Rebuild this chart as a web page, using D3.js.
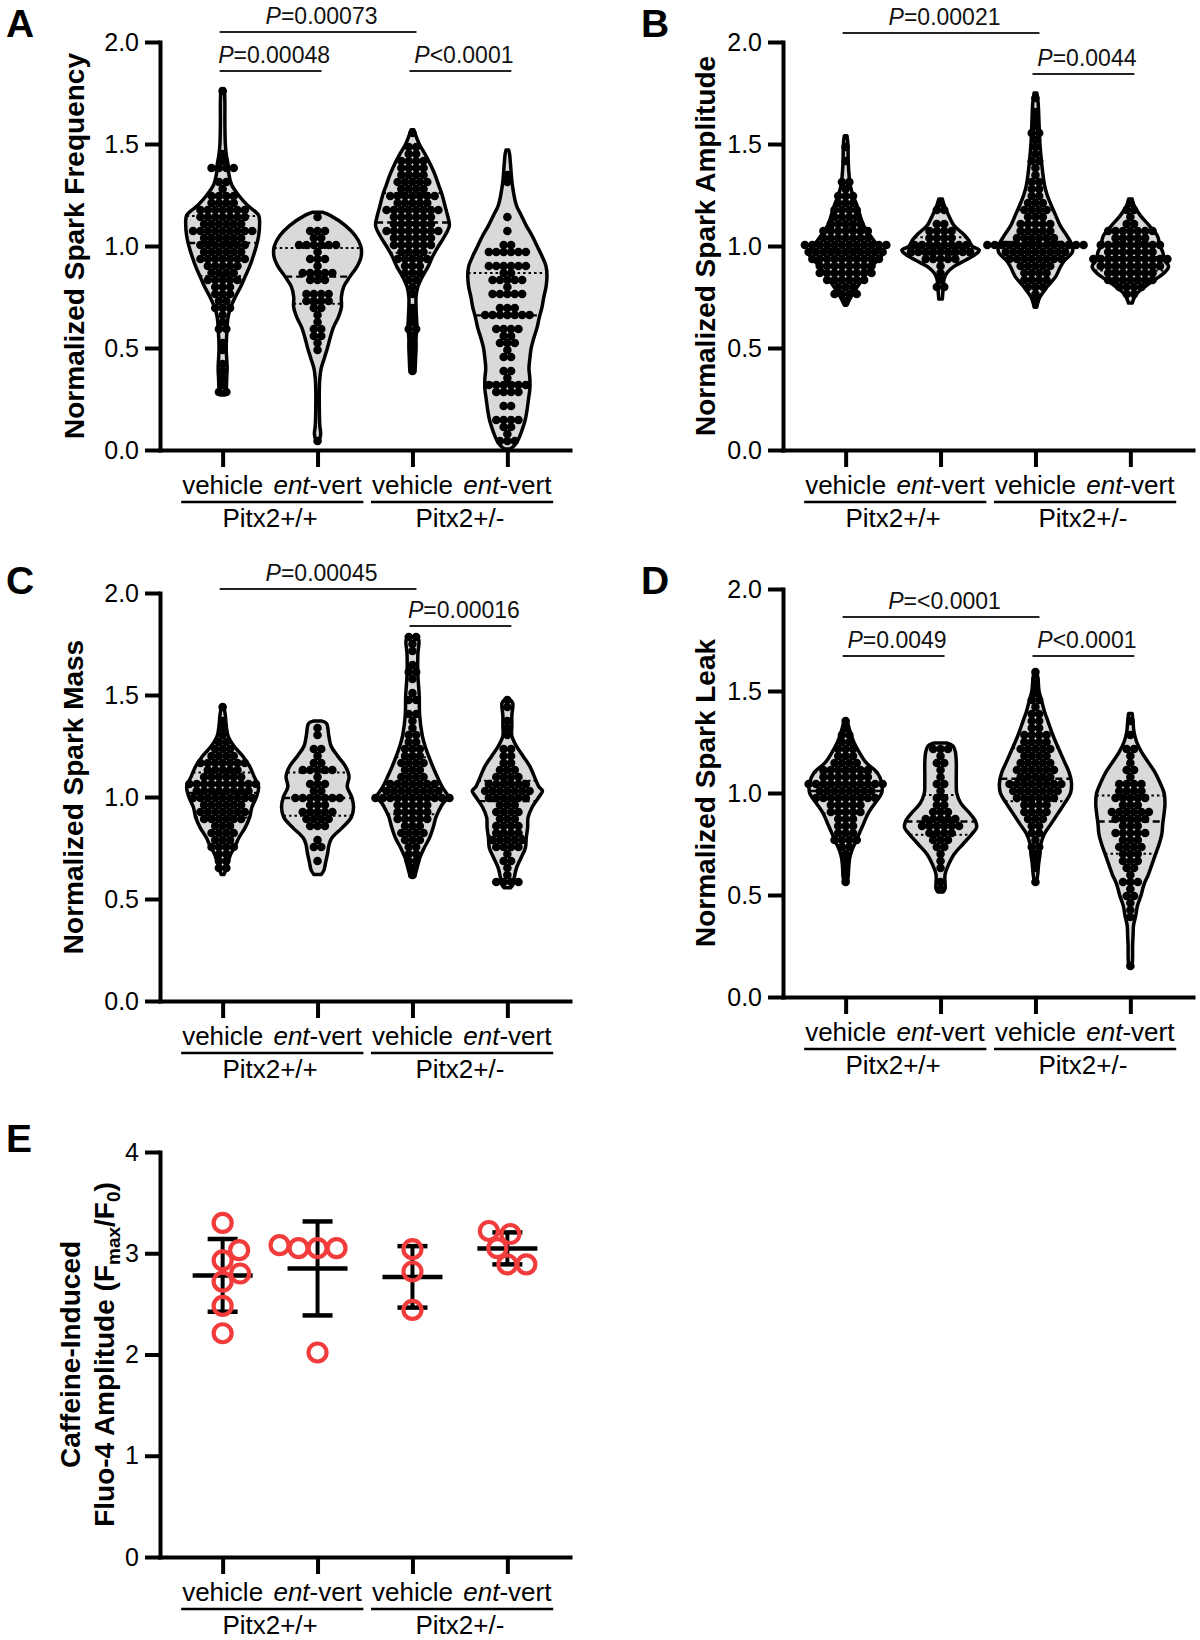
<!DOCTYPE html>
<html><head><meta charset="utf-8">
<script src="https://cdn.jsdelivr.net/npm/d3@7"></script>
<style>
body{margin:0;background:#fff;}
svg text{font-family:"Liberation Sans",Arial,sans-serif;}
</style></head><body>
<svg id="c" width="1200" height="1640"></svg>
<script>
// ---------------- DATA ----------------
const groupNames = ["vehicle", "ent-vert", "vehicle", "ent-vert"];
const genotypes = ["Pitx2+/+", "Pitx2+/-"];
const violinTicks = [0, 0.5, 1.0, 1.5, 2.0];
const caffeineTicks = [0, 1, 2, 3, 4];

// Panel A: Normalized Spark Frequency
const freqVehWT = [1.77,1.45,1.42,1.39,1.38,1.38,1.37,1.33,1.3,1.28,1.26,1.25,1.24,1.23,1.22,1.21,1.2,1.2,1.19,1.19,1.18,1.17,1.17,1.16,1.16,1.15,1.15,1.15,1.14,1.14,1.13,1.13,1.12,1.12,1.11,1.11,1.1,1.1,1.09,1.09,1.08,1.08,1.08,1.07,1.07,1.06,1.06,1.05,1.05,1.04,1.04,1.03,1.03,1.02,1.02,1.01,1.0,1.0,0.99,0.99,0.98,0.98,0.98,0.97,0.97,0.96,0.95,0.95,0.94,0.94,0.93,0.93,0.92,0.91,0.9,0.9,0.89,0.89,0.88,0.88,0.87,0.86,0.85,0.84,0.84,0.83,0.82,0.81,0.8,0.79,0.78,0.77,0.76,0.74,0.73,0.71,0.69,0.68,0.66,0.63,0.61,0.58,0.54,0.5,0.42,0.4,0.37,0.33,0.3,0.27];
const freqEntWT = [1.15,1.09,1.08,1.07,1.04,1.03,1.02,0.99,0.99,0.99,0.99,0.99,0.96,0.94,0.93,0.92,0.89,0.88,0.88,0.87,0.86,0.86,0.84,0.83,0.82,0.78,0.77,0.76,0.75,0.74,0.74,0.73,0.72,0.71,0.7,0.66,0.64,0.6,0.58,0.57,0.55,0.52,0.5,0.06];
const freqVehHet = [1.56,1.5,1.47,1.46,1.44,1.43,1.41,1.4,1.4,1.39,1.39,1.38,1.37,1.36,1.35,1.34,1.34,1.33,1.32,1.31,1.3,1.3,1.29,1.28,1.28,1.27,1.26,1.26,1.25,1.24,1.24,1.23,1.23,1.22,1.21,1.21,1.2,1.2,1.19,1.19,1.18,1.18,1.17,1.17,1.16,1.16,1.15,1.15,1.14,1.14,1.13,1.13,1.12,1.12,1.11,1.11,1.1,1.1,1.09,1.09,1.09,1.08,1.08,1.07,1.07,1.06,1.05,1.05,1.04,1.04,1.03,1.03,1.02,1.01,1.01,1.0,0.99,0.99,0.98,0.98,0.97,0.96,0.95,0.94,0.93,0.93,0.92,0.91,0.9,0.89,0.88,0.87,0.86,0.84,0.82,0.8,0.76,0.71,0.66,0.63,0.61,0.6,0.55,0.53,0.5,0.45,0.41,0.38];
const freqEntHet = [1.34,1.32,1.15,1.09,1.02,1.01,0.97,0.97,0.97,0.96,0.96,0.96,0.89,0.89,0.89,0.89,0.89,0.89,0.88,0.88,0.83,0.83,0.82,0.82,0.82,0.81,0.77,0.76,0.76,0.75,0.75,0.71,0.7,0.7,0.67,0.67,0.67,0.66,0.66,0.66,0.65,0.61,0.6,0.6,0.59,0.55,0.55,0.54,0.54,0.53,0.48,0.47,0.46,0.39,0.38,0.37,0.33,0.33,0.33,0.32,0.32,0.32,0.28,0.28,0.27,0.27,0.23,0.22,0.16,0.15,0.15,0.14,0.1,0.1,0.09,0.05,0.04,0.03];
// violin density outlines: [value, relative density]
const profFreqVehWT = [[1.77,4],[1.7,5],[1.6,5],[1.5,6],[1.45,8],[1.4,12],[1.35,14],[1.3,20],[1.25,35],[1.2,55],[1.15,80],[1.1,82],[1.05,80],[1.0,75],[0.95,68],[0.9,60],[0.85,50],[0.8,40],[0.75,28],[0.7,18],[0.65,12],[0.6,10],[0.5,8],[0.4,10],[0.35,9],[0.3,8],[0.27,5]];
const profFreqEntWT = [[1.165,12],[1.15,28],[1.1,62],[1.05,84],[1.0,96],[0.95,97],[0.9,88],[0.85,72],[0.8,58],[0.75,53],[0.7,53],[0.65,46],[0.6,35],[0.55,28],[0.5,22],[0.45,15],[0.4,8],[0.35,5],[0.3,4],[0.2,4],[0.12,5],[0.08,7],[0.055,5]];
const profFreqVehHet = [[1.57,3],[1.55,6],[1.5,15],[1.45,28],[1.4,40],[1.35,50],[1.3,58],[1.25,66],[1.2,72],[1.15,78],[1.1,82],[1.05,72],[1.0,58],[0.95,45],[0.9,35],[0.85,22],[0.8,12],[0.75,8],[0.7,8],[0.65,9],[0.6,10],[0.55,8],[0.5,8],[0.45,7],[0.4,6],[0.38,4]];
const profFreqEntHet = [[1.47,3],[1.45,5],[1.4,7],[1.3,11],[1.2,20],[1.15,31],[1.1,42],[1.05,55],[1.0,66],[0.95,77],[0.9,86],[0.85,88],[0.8,86],[0.75,81],[0.7,77],[0.65,71],[0.6,66],[0.55,59],[0.5,53],[0.45,50],[0.4,48],[0.35,50],[0.3,50],[0.25,47],[0.2,44],[0.15,40],[0.1,33],[0.05,24],[0.02,15],[0.005,6]];
const sigFreq = [[0,2,"=0.00073",0],[0,1,"=0.00048",1],[2,3,"<0.0001",1]];

// Panel B: Normalized Spark Amplitude
const ampVehWT = [1.47,1.42,1.33,1.3,1.28,1.26,1.24,1.23,1.22,1.21,1.2,1.19,1.18,1.17,1.16,1.15,1.14,1.13,1.13,1.12,1.11,1.11,1.1,1.1,1.09,1.09,1.08,1.08,1.07,1.06,1.06,1.05,1.05,1.04,1.04,1.04,1.03,1.03,1.02,1.02,1.01,1.01,1.01,1.0,1.0,1.0,0.99,0.99,0.99,0.99,0.98,0.98,0.98,0.97,0.97,0.97,0.97,0.96,0.96,0.96,0.96,0.95,0.95,0.95,0.94,0.94,0.93,0.93,0.92,0.92,0.92,0.91,0.91,0.91,0.9,0.9,0.9,0.89,0.89,0.88,0.88,0.88,0.87,0.87,0.86,0.86,0.86,0.85,0.85,0.84,0.83,0.83,0.82,0.81,0.8,0.79,0.78,0.78,0.77,0.76,0.74];
const ampEntWT = [1.22,1.18,1.17,1.12,1.1,1.08,1.07,1.06,1.06,1.05,1.04,1.03,1.03,1.02,1.01,1.01,1.0,1.0,0.99,0.99,0.99,0.98,0.98,0.98,0.98,0.97,0.97,0.97,0.96,0.96,0.95,0.95,0.94,0.93,0.92,0.9,0.88,0.85,0.8,0.79];
const ampVehHet = [1.73,1.66,1.63,1.6,1.56,1.55,1.53,1.5,1.46,1.43,1.4,1.37,1.35,1.32,1.3,1.28,1.27,1.25,1.24,1.22,1.21,1.2,1.19,1.18,1.17,1.16,1.15,1.14,1.13,1.12,1.12,1.11,1.1,1.1,1.09,1.08,1.07,1.07,1.06,1.05,1.05,1.04,1.04,1.03,1.03,1.02,1.02,1.02,1.01,1.01,1.01,1.0,1.0,1.0,1.0,0.99,0.99,0.99,0.99,0.98,0.98,0.98,0.98,0.97,0.97,0.97,0.96,0.96,0.95,0.95,0.94,0.94,0.93,0.93,0.92,0.92,0.91,0.9,0.9,0.9,0.89,0.88,0.88,0.87,0.86,0.85,0.84,0.83,0.82,0.81,0.8,0.79,0.77,0.74];
const ampEntHet = [1.22,1.18,1.16,1.14,1.12,1.1,1.09,1.08,1.08,1.07,1.06,1.06,1.06,1.05,1.04,1.04,1.03,1.03,1.02,1.02,1.01,1.01,1.0,1.0,1.0,0.99,0.99,0.98,0.98,0.97,0.97,0.97,0.96,0.96,0.95,0.95,0.95,0.94,0.94,0.93,0.93,0.93,0.92,0.92,0.92,0.91,0.91,0.91,0.9,0.9,0.9,0.89,0.89,0.89,0.88,0.88,0.87,0.87,0.87,0.86,0.86,0.85,0.85,0.85,0.84,0.83,0.83,0.82,0.81,0.81,0.8,0.79,0.78,0.76];
const profAmpVehWT = [[1.54,3],[1.5,5],[1.4,6],[1.3,10],[1.25,16],[1.2,25],[1.15,32],[1.1,40],[1.05,55],[1.0,72],[0.97,84],[0.94,75],[0.9,58],[0.85,42],[0.8,26],[0.75,12],[0.72,5],[0.71,3]];
const profAmpEntWT = [[1.23,4],[1.2,8],[1.15,18],[1.1,30],[1.06,50],[1.03,62],[1.0,70],[0.98,86],[0.96,78],[0.93,55],[0.9,30],[0.87,15],[0.84,8],[0.8,6],[0.77,5],[0.74,4]];
const profAmpVehHet = [[1.75,3],[1.7,6],[1.6,8],[1.5,10],[1.4,14],[1.3,20],[1.25,26],[1.2,35],[1.15,45],[1.1,55],[1.05,70],[1.0,82],[0.97,82],[0.93,65],[0.9,56],[0.85,45],[0.8,26],[0.75,10],[0.72,5],[0.7,3]];
const profAmpEntHet = [[1.23,4],[1.2,8],[1.15,22],[1.1,42],[1.05,60],[1.0,66],[0.97,72],[0.93,76],[0.9,85],[0.87,76],[0.84,58],[0.8,32],[0.76,12],[0.72,4]];
const sigAmp = [[0,2,"=0.00021",0],[2,3,"=0.0044",1]];

// Panel C: Normalized Spark Mass
const massVehWT = [1.43,1.38,1.33,1.3,1.28,1.27,1.25,1.24,1.22,1.21,1.2,1.2,1.19,1.18,1.17,1.17,1.16,1.16,1.15,1.15,1.14,1.13,1.13,1.12,1.12,1.11,1.1,1.1,1.1,1.09,1.09,1.08,1.08,1.07,1.07,1.06,1.06,1.06,1.05,1.05,1.05,1.04,1.04,1.04,1.03,1.03,1.02,1.02,1.02,1.01,1.01,1.0,1.0,1.0,0.99,0.99,0.98,0.98,0.97,0.97,0.96,0.96,0.96,0.95,0.94,0.94,0.93,0.93,0.92,0.92,0.91,0.9,0.9,0.9,0.89,0.88,0.88,0.87,0.86,0.85,0.84,0.83,0.82,0.81,0.8,0.79,0.78,0.77,0.76,0.76,0.75,0.73,0.72,0.7,0.68,0.66,0.64];
const massEntWT = [1.34,1.29,1.24,1.22,1.2,1.17,1.15,1.13,1.13,1.13,1.12,1.12,1.1,1.08,1.06,1.05,1.03,1.02,1.01,1.0,1.0,1.0,0.99,0.99,0.98,0.97,0.96,0.95,0.94,0.93,0.92,0.91,0.91,0.9,0.9,0.89,0.88,0.87,0.86,0.85,0.78,0.76,0.74,0.68];
const massVehHet = [1.78,1.77,1.76,1.72,1.66,1.62,1.6,1.57,1.52,1.47,1.46,1.42,1.4,1.37,1.35,1.32,1.3,1.28,1.27,1.25,1.24,1.22,1.21,1.2,1.19,1.18,1.17,1.16,1.15,1.14,1.13,1.12,1.11,1.1,1.1,1.09,1.08,1.08,1.07,1.07,1.06,1.05,1.05,1.04,1.04,1.04,1.03,1.03,1.02,1.02,1.02,1.01,1.01,1.0,1.0,1.0,1.0,0.99,0.99,0.99,0.98,0.98,0.97,0.97,0.96,0.96,0.95,0.94,0.93,0.92,0.92,0.91,0.9,0.9,0.89,0.88,0.88,0.87,0.86,0.85,0.84,0.83,0.82,0.81,0.8,0.79,0.78,0.76,0.75,0.73,0.71,0.7,0.67,0.64,0.61];
const massEntHet = [1.46,1.43,1.38,1.33,1.3,1.25,1.22,1.2,1.19,1.17,1.15,1.14,1.13,1.12,1.11,1.1,1.1,1.09,1.08,1.07,1.06,1.06,1.05,1.05,1.04,1.04,1.03,1.03,1.03,1.02,1.02,1.01,1.0,1.0,1.0,0.99,0.98,0.97,0.96,0.95,0.94,0.93,0.92,0.91,0.9,0.89,0.88,0.87,0.86,0.85,0.85,0.84,0.83,0.82,0.81,0.8,0.8,0.79,0.78,0.78,0.77,0.76,0.75,0.74,0.72,0.7,0.68,0.66,0.63,0.6,0.58,0.57,0.57];
const profMassVehWT = [[1.44,3],[1.4,6],[1.35,8],[1.3,12],[1.25,25],[1.2,45],[1.15,60],[1.1,70],[1.05,80],[1.0,75],[0.95,65],[0.9,60],[0.85,50],[0.8,36],[0.76,28],[0.72,18],[0.68,12],[0.65,8],[0.62,3]];
const profMassEntWT = [[1.372,10],[1.36,20],[1.3,25],[1.25,30],[1.2,45],[1.15,62],[1.1,70],[1.05,66],[1.0,76],[0.95,80],[0.9,75],[0.85,55],[0.8,32],[0.77,26],[0.72,22],[0.68,18],[0.64,14],[0.62,8]];
const profMassVehHet = [[1.785,8],[1.77,14],[1.7,12],[1.6,12],[1.5,15],[1.4,16],[1.3,22],[1.25,28],[1.2,36],[1.15,45],[1.1,55],[1.05,66],[1.02,75],[1.0,80],[0.97,68],[0.93,58],[0.9,52],[0.85,46],[0.8,38],[0.75,26],[0.7,16],[0.65,10],[0.61,5]];
const profMassEntHet = [[1.475,7],[1.46,12],[1.4,10],[1.35,10],[1.3,10],[1.25,20],[1.2,35],[1.15,50],[1.1,60],[1.05,70],[1.03,78],[1.0,70],[0.95,55],[0.9,46],[0.85,45],[0.8,42],[0.75,40],[0.7,30],[0.65,20],[0.6,15],[0.57,12],[0.555,7]];
const sigMass = [[0,2,"=0.00045",0],[2,3,"=0.00016",1]];

// Panel D: Normalized Spark Leak
const leakVehWT = [1.34,1.32,1.29,1.27,1.25,1.24,1.22,1.21,1.2,1.19,1.18,1.17,1.16,1.15,1.14,1.13,1.12,1.12,1.12,1.11,1.1,1.1,1.1,1.09,1.09,1.08,1.08,1.08,1.07,1.07,1.06,1.06,1.06,1.05,1.05,1.05,1.04,1.04,1.03,1.03,1.03,1.02,1.02,1.01,1.01,1.0,1.0,1.0,1.0,0.99,0.99,0.98,0.98,0.98,0.97,0.97,0.96,0.96,0.95,0.94,0.94,0.93,0.93,0.92,0.91,0.9,0.9,0.89,0.88,0.87,0.86,0.85,0.84,0.83,0.82,0.81,0.8,0.78,0.77,0.76,0.76,0.75,0.72,0.7,0.67,0.63,0.6,0.57];
const leakEntWT = [1.22,1.21,1.2,1.18,1.15,1.13,1.1,1.08,1.05,1.03,1.0,0.98,0.96,0.95,0.93,0.91,0.9,0.89,0.88,0.87,0.87,0.86,0.86,0.85,0.85,0.84,0.84,0.83,0.83,0.82,0.81,0.8,0.79,0.78,0.77,0.76,0.74,0.72,0.7,0.66,0.62,0.56,0.53];
const leakVehHet = [1.58,1.55,1.52,1.48,1.45,1.44,1.42,1.4,1.38,1.36,1.35,1.33,1.32,1.3,1.29,1.28,1.27,1.26,1.25,1.24,1.24,1.23,1.22,1.21,1.2,1.2,1.19,1.18,1.17,1.17,1.16,1.15,1.14,1.13,1.13,1.12,1.12,1.11,1.11,1.1,1.1,1.09,1.08,1.08,1.07,1.07,1.06,1.06,1.05,1.05,1.04,1.04,1.03,1.03,1.02,1.02,1.01,1.01,1.0,1.0,1.0,0.99,0.99,0.98,0.97,0.97,0.96,0.95,0.94,0.94,0.93,0.92,0.91,0.9,0.89,0.88,0.87,0.86,0.85,0.84,0.82,0.8,0.78,0.75,0.72,0.7,0.66,0.62,0.58];
const leakEntHet = [1.36,1.3,1.22,1.2,1.17,1.14,1.12,1.1,1.08,1.06,1.05,1.04,1.03,1.02,1.01,1.0,1.0,0.99,0.98,0.97,0.96,0.96,0.95,0.94,0.93,0.92,0.92,0.91,0.9,0.9,0.89,0.88,0.88,0.87,0.86,0.86,0.85,0.84,0.83,0.82,0.81,0.8,0.8,0.79,0.78,0.77,0.76,0.75,0.74,0.73,0.72,0.71,0.7,0.69,0.68,0.66,0.65,0.63,0.62,0.6,0.58,0.56,0.55,0.53,0.5,0.48,0.45,0.42,0.4,0.16];
const profLeakVehWT = [[1.35,4],[1.3,10],[1.25,18],[1.2,30],[1.15,45],[1.1,70],[1.05,80],[1.0,80],[0.95,65],[0.9,50],[0.85,40],[0.8,30],[0.76,22],[0.72,14],[0.68,9],[0.64,7],[0.6,6],[0.56,4]];
const profLeakEntWT = [[1.245,14],[1.23,28],[1.2,33],[1.15,35],[1.1,35],[1.05,35],[1.0,36],[0.95,45],[0.9,65],[0.86,78],[0.83,80],[0.8,70],[0.75,50],[0.7,30],[0.65,18],[0.6,10],[0.56,10],[0.53,10],[0.515,6]];
const profLeakVehHet = [[1.6,3],[1.55,6],[1.5,8],[1.45,14],[1.4,20],[1.35,28],[1.3,36],[1.25,45],[1.2,55],[1.15,65],[1.1,75],[1.05,80],[1.0,78],[0.95,65],[0.9,50],[0.85,35],[0.8,20],[0.75,12],[0.7,10],[0.65,7],[0.6,5],[0.57,3]];
const profLeakEntHet = [[1.39,4],[1.35,6],[1.3,8],[1.25,14],[1.2,25],[1.15,40],[1.1,55],[1.05,66],[1.0,75],[0.95,77],[0.9,75],[0.85,72],[0.8,70],[0.75,64],[0.7,56],[0.65,48],[0.6,40],[0.55,30],[0.5,24],[0.45,16],[0.4,12],[0.35,7],[0.3,6],[0.25,5],[0.2,5],[0.15,4]];
const sigLeak = [[0,2,"=<0.0001",0],[0,1,"=0.0049",1],[2,3,"<0.0001",1]];

// Panel E: Caffeine-induced Fluo-4 amplitude
const caffVehWT = [3.30,3.03,2.93,2.80,2.72,2.48,2.21];
const caffEntWT = [3.08,3.05,3.05,3.05,2.02];
const caffVehHet = [3.04,2.82,2.44];
const caffEntHet = [3.22,3.19,3.05,2.89,2.89];

// ---------------- DRAWING ----------------
const svg = d3.select("#c");
const AXW = 410;

// Prism-style scatter: points binned into rows, spread evenly around the centre
function rowScatter(vals, y, rowH, sp) {
  const byRow = d3.group(vals.map(v => ({v, r: Math.round(y(v) / rowH)})), d => d.r);
  const out = [];
  for (const [r, arr] of byRow) {
    arr.sort((a, b) => a.v - b.v);
    const n = arr.length;
    arr.forEach((d, k) => out.push({v: d.v, y: r * rowH, dx: (k - (n - 1) / 2) * sp}));
  }
  return out;
}

function swarm(vals, y, D) {
  const pts = vals.map(v => ({v, y: y(v)})).sort((a, b) => b.y - a.y);
  const placed = [];
  pts.forEach((p, i) => {
    let dx = null;
    for (let k = 0; k < 400 && dx === null; k++) {
      const s = k * 0.5;
      const cands = k === 0 ? [0] : (i % 2 ? [s, -s] : [-s, s]);
      for (const c of cands) {
        let ok = true;
        for (const q of placed) {
          const dy = q.y - p.y;
          if (Math.abs(dy) >= D) continue;
          const ddx = q.dx - c;
          if (ddx * ddx + dy * dy < D * D) { ok = false; break; }
        }
        if (ok) { dx = c; break; }
      }
    }
    p.dx = dx; placed.push(p);
  });
  return pts;
}

function styleAxis(sel) {
  sel.attr("font-size", 25).attr("font-family", "Liberation Sans, Arial, sans-serif");
  sel.select(".domain").attr("stroke", "#000").attr("stroke-width", 4).attr("stroke-linecap", "square");
  sel.selectAll(".tick line").attr("stroke", "#000").attr("stroke-width", 4);
  sel.selectAll(".tick text").attr("fill", "#000");
}

function drawCategoryLabels(g, x, yBot) {
  const texts = [];
  groupNames.forEach((n, i) => {
    const t = g.append("text").attr("x", x(i)).attr("y", yBot + 44)
      .attr("text-anchor", "middle").attr("font-size", 26).attr("fill", "#000");
    if (n.startsWith("ent")) {
      t.append("tspan").attr("font-style", "italic").text("ent");
      t.append("tspan").text(n.slice(3));
    } else t.text(n);
    texts.push(t);
  });
  genotypes.forEach((gn, j) => {
    const b0 = texts[2 * j].node().getBBox(), b1 = texts[2 * j + 1].node().getBBox();
    g.append("line").attr("x1", b0.x - 1).attr("x2", b1.x + b1.width + 1)
      .attr("y1", yBot + 52).attr("y2", yBot + 52).attr("stroke", "#000").attr("stroke-width", 2.5);
    g.append("text").attr("x", (x(2 * j) + x(2 * j + 1)) / 2).attr("y", yBot + 77)
      .attr("text-anchor", "middle").attr("font-size", 26).attr("fill", "#000").text(gn);
  });
}

function panelLetter(letter, lx, ly) {
  svg.append("text").attr("x", lx).attr("y", ly).attr("font-size", 39)
    .attr("font-weight", "bold").attr("fill", "#000").text(letter);
}

function drawViolinPanel(cfg) {
  const g = svg.append("g");
  const x = d3.scalePoint().domain(d3.range(4)).range([cfg.x0, cfg.x0 + AXW]).padding(0.66);
  const y = d3.scaleLinear().domain([0, 2]).range([cfg.yBot, cfg.yTop]);
  const w = d3.scaleLinear().domain([0, 100]).range([0, 45]);

  cfg.groups.forEach((grp, i) => {
    const cx = x(i);
    const area = d3.area().curve(d3.curveCatmullRom.alpha(0.5))
      .y(d => y(d[0])).x0(d => cx - w(d[1])).x1(d => cx + w(d[1]));
    g.append("path").attr("d", area(grp.prof))
      .attr("fill", "#d9d9d9").attr("stroke", "#000").attr("stroke-width", 3.5).attr("stroke-linejoin", "round");
    const dens = d3.scaleLinear().domain(grp.prof.map(d => d[0])).range(grp.prof.map(d => d[1])).clamp(true);
    const s = grp.pts.slice().sort(d3.ascending);
    [[0.25, "2.5,3", 2], [0.5, "7,4", 2.4], [0.75, "2.5,3", 2]].forEach(([p, dash, sw]) => {
      const q = d3.quantile(s, p);
      const hw = w(dens(q));
      g.append("line").attr("x1", cx - hw).attr("x2", cx + hw).attr("y1", y(q)).attr("y2", y(q))
        .attr("stroke", "#000").attr("stroke-width", sw).attr("stroke-dasharray", dash);
    });
    const pts = rowScatter(grp.pts, y, 7, 7.4);
    g.append("g").selectAll("circle").data(pts).join("circle")
      .attr("cx", d => cx + d.dx).attr("cy", d => d.y).attr("r", 4.3).attr("fill", "#000");
  });

  const ya = g.append("g").attr("transform", `translate(${cfg.x0},0)`)
    .call(d3.axisLeft(y).tickValues(violinTicks).tickFormat(d3.format(".1f")).tickSize(15).tickPadding(6).tickSizeOuter(0));
  styleAxis(ya);
  const xa = g.append("g").attr("transform", `translate(0,${cfg.yBot})`)
    .call(d3.axisBottom(x).tickSize(17).tickSizeOuter(0).tickFormat(""));
  styleAxis(xa);

  drawCategoryLabels(g, x, cfg.yBot);

  g.append("text").attr("transform", `translate(${cfg.titleX},${(cfg.yTop + cfg.yBot) / 2}) rotate(-90)`)
    .attr("text-anchor", "middle").attr("font-size", 28).attr("font-weight", "bold").attr("fill", "#000").text(cfg.title);

  cfg.sig.forEach(([a, b, lab, row]) => {
    const ly = cfg.sigY[row];
    g.append("line").attr("x1", x(a) - 3).attr("x2", x(b) + 4).attr("y1", ly).attr("y2", ly)
      .attr("stroke", "#222").attr("stroke-width", 2);
    const t = g.append("text").attr("x", (x(a) + x(b)) / 2 + 4).attr("y", ly - 8)
      .attr("text-anchor", "middle").attr("font-size", 23).attr("fill", "#111");
    t.append("tspan").attr("font-style", "italic").text("P");
    t.append("tspan").text(lab);
  });
  panelLetter(cfg.letter, cfg.lx, cfg.ly);
}

drawViolinPanel({letter: "A", lx: 6, ly: 37, x0: 160, yTop: 42, yBot: 450, titleX: 84,
  title: "Normalized Spark Frequency", sig: sigFreq, sigY: [32, 71],
  groups: [{pts: freqVehWT, prof: profFreqVehWT}, {pts: freqEntWT, prof: profFreqEntWT},
           {pts: freqVehHet, prof: profFreqVehHet}, {pts: freqEntHet, prof: profFreqEntHet}]});
drawViolinPanel({letter: "B", lx: 641, ly: 37, x0: 783, yTop: 42, yBot: 450, titleX: 715,
  title: "Normalized Spark Amplitude", sig: sigAmp, sigY: [33, 74],
  groups: [{pts: ampVehWT, prof: profAmpVehWT}, {pts: ampEntWT, prof: profAmpEntWT},
           {pts: ampVehHet, prof: profAmpVehHet}, {pts: ampEntHet, prof: profAmpEntHet}]});
drawViolinPanel({letter: "C", lx: 6, ly: 594, x0: 160, yTop: 593, yBot: 1001, titleX: 83,
  title: "Normalized Spark Mass", sig: sigMass, sigY: [589, 626],
  groups: [{pts: massVehWT, prof: profMassVehWT}, {pts: massEntWT, prof: profMassEntWT},
           {pts: massVehHet, prof: profMassVehHet}, {pts: massEntHet, prof: profMassEntHet}]});
drawViolinPanel({letter: "D", lx: 641, ly: 594, x0: 783, yTop: 589, yBot: 997, titleX: 715,
  title: "Normalized Spark Leak", sig: sigLeak, sigY: [617, 656],
  groups: [{pts: leakVehWT, prof: profLeakVehWT}, {pts: leakEntWT, prof: profLeakEntWT},
           {pts: leakVehHet, prof: profLeakVehHet}, {pts: leakEntHet, prof: profLeakEntHet}]});

// Panel E
(function () {
  const x0 = 160, yTop = 1152, yBot = 1557;
  const g = svg.append("g");
  const x = d3.scalePoint().domain(d3.range(4)).range([x0, x0 + AXW]).padding(0.66);
  const y = d3.scaleLinear().domain([0, 4]).range([yBot, yTop]);
  const groups = [caffVehWT, caffEntWT, caffVehHet, caffEntHet];
  groups.forEach((vals, i) => {
    const cx = x(i), m = d3.mean(vals), sd = d3.deviation(vals);
    g.append("line").attr("x1", cx).attr("x2", cx).attr("y1", y(m + sd)).attr("y2", y(m - sd))
      .attr("stroke", "#000").attr("stroke-width", 4);
    [m + sd, m - sd].forEach(v => g.append("line").attr("x1", cx - 15).attr("x2", cx + 15)
      .attr("y1", y(v)).attr("y2", y(v)).attr("stroke", "#000").attr("stroke-width", 4.5));
    g.append("line").attr("x1", cx - 30).attr("x2", cx + 30).attr("y1", y(m)).attr("y2", y(m))
      .attr("stroke", "#000").attr("stroke-width", 4.5);
  });
  groups.forEach((vals, i) => {
    const cx = x(i);
    const pts = swarm(vals, y, 19);
    g.append("g").selectAll("circle").data(pts).join("circle")
      .attr("cx", d => cx + d.dx).attr("cy", d => d.y).attr("r", 9)
      .attr("fill", "none").attr("stroke", "#f23b3b").attr("stroke-width", 4.2);
  });
  const ya = g.append("g").attr("transform", `translate(${x0},0)`)
    .call(d3.axisLeft(y).tickValues(caffeineTicks).tickFormat(d3.format("d")).tickSize(15).tickPadding(6).tickSizeOuter(0));
  styleAxis(ya);
  const xa = g.append("g").attr("transform", `translate(0,${yBot})`)
    .call(d3.axisBottom(x).tickSize(17).tickSizeOuter(0).tickFormat(""));
  styleAxis(xa);
  drawCategoryLabels(g, x, yBot);
  const cy = (yTop + yBot) / 2;
  g.append("text").attr("transform", `translate(80,${cy}) rotate(-90)`).attr("text-anchor", "middle")
    .attr("font-size", 28).attr("font-weight", "bold").attr("fill", "#000").text("Caffeine-Induced");
  const t2 = g.append("text").attr("transform", `translate(114,${cy}) rotate(-90)`).attr("text-anchor", "middle")
    .attr("font-size", 28).attr("font-weight", "bold").attr("fill", "#000");
  t2.append("tspan").text("Fluo-4 Amplitude (F");
  t2.append("tspan").attr("font-size", 19).attr("dy", 6).text("max");
  t2.append("tspan").attr("dy", -6).text("/F");
  t2.append("tspan").attr("font-size", 19).attr("dy", 6).text("0");
  t2.append("tspan").attr("dy", -6).text(")");
  panelLetter("E", 6, 1152);
})();
</script></body></html>
